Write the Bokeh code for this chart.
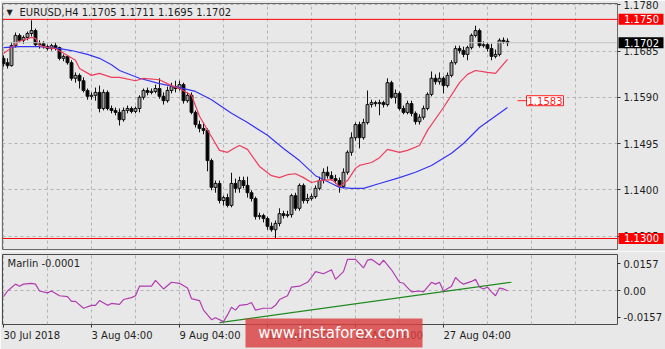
from bokeh.plotting import figure
from bokeh.layouts import column
from bokeh.models import (Range1d, FixedTicker, Grid, Span, Label, ColumnDataSource,
                          PrintfTickFormatter, CustomJSTickFormatter, GridBox)
from bokeh.embed import file_html
from bokeh.resources import INLINE

# ---------------- data (EURUSD H4) ----------------
symbol = "EURUSD,H4"
open_ = [1.1670, 1.1661, 1.1655, 1.1696, 1.1717, 1.1707, 1.1713, 1.1721, 1.1727, 1.1698,
         1.1700, 1.1694, 1.1690, 1.1696, 1.1692, 1.1670, 1.1674, 1.1661, 1.1629, 1.1635,
         1.1624, 1.1604, 1.1592, 1.1594, 1.1600, 1.1567, 1.1600, 1.1567, 1.1563, 1.1559,
         1.1544, 1.1563, 1.1567, 1.1561, 1.1567, 1.1590, 1.1604, 1.1600, 1.1602, 1.1608,
         1.1592, 1.1583, 1.1604, 1.1612, 1.1608, 1.1616, 1.1583, 1.1594, 1.1559, 1.1534,
         1.1526, 1.1522, 1.1460, 1.1405, 1.1413, 1.1378, 1.1384, 1.1368, 1.1413, 1.1403,
         1.1419, 1.1409, 1.1394, 1.1382, 1.1345, 1.1347, 1.1341, 1.1325, 1.1318, 1.1331,
         1.1351, 1.1347, 1.1349, 1.1388, 1.1362, 1.1409, 1.1378, 1.1382, 1.1386, 1.1403,
         1.1419, 1.1436, 1.1429, 1.1423, 1.1419, 1.1407, 1.1436, 1.1477, 1.1507, 1.1534,
         1.1507, 1.1538, 1.1575, 1.1579, 1.1577, 1.1579, 1.1575, 1.1620, 1.1590, 1.1598,
         1.1567, 1.1559, 1.1577, 1.1557, 1.1540, 1.1549, 1.1567, 1.1596, 1.1629, 1.1622,
         1.1629, 1.1614, 1.1635, 1.1661, 1.1690, 1.1686, 1.1678, 1.1692, 1.1717, 1.1727,
         1.1696, 1.1698, 1.1690, 1.1674, 1.1678, 1.1707, 1.1705]
high = [1.1676, 1.1670, 1.1703, 1.1723, 1.1721, 1.1717, 1.1725, 1.1748, 1.1731, 1.1707,
        1.1705, 1.1698, 1.1700, 1.1703, 1.1694, 1.1678, 1.1676, 1.1666, 1.1641, 1.1639,
        1.1631, 1.1608, 1.1600, 1.1610, 1.1614, 1.1606, 1.1604, 1.1573, 1.1569, 1.1567,
        1.1569, 1.1573, 1.1571, 1.1571, 1.1594, 1.1608, 1.1610, 1.1608, 1.1616, 1.1629,
        1.1600, 1.1612, 1.1620, 1.1624, 1.1624, 1.1620, 1.1600, 1.1600, 1.1563, 1.1542,
        1.1538, 1.1526, 1.1464, 1.1419, 1.1419, 1.1388, 1.1392, 1.1435, 1.1423, 1.1427,
        1.1427, 1.1427, 1.1399, 1.1386, 1.1353, 1.1351, 1.1345, 1.1333, 1.1337, 1.1362,
        1.1357, 1.1357, 1.1392, 1.1394, 1.1413, 1.1413, 1.1392, 1.1392, 1.1409, 1.1427,
        1.1444, 1.1448, 1.1438, 1.1431, 1.1425, 1.1444, 1.1481, 1.1518, 1.1538, 1.1540,
        1.1546, 1.1604, 1.1585, 1.1583, 1.1585, 1.1583, 1.1629, 1.1624, 1.1606, 1.1602,
        1.1573, 1.1583, 1.1583, 1.1561, 1.1555, 1.1573, 1.1600, 1.1643, 1.1637, 1.1641,
        1.1633, 1.1641, 1.1666, 1.1696, 1.1696, 1.1694, 1.1696, 1.1721, 1.1737, 1.1731,
        1.1705, 1.1703, 1.1700, 1.1688, 1.1711, 1.1713, 1.1711]
low = [1.1653, 1.1649, 1.1653, 1.1692, 1.1703, 1.1700, 1.1707, 1.1715, 1.1694, 1.1690,
       1.1690, 1.1686, 1.1686, 1.1686, 1.1666, 1.1664, 1.1657, 1.1624, 1.1620, 1.1608,
       1.1600, 1.1585, 1.1585, 1.1583, 1.1559, 1.1563, 1.1563, 1.1557, 1.1553, 1.1532,
       1.1540, 1.1557, 1.1557, 1.1557, 1.1559, 1.1585, 1.1594, 1.1596, 1.1598, 1.1587,
       1.1575, 1.1579, 1.1598, 1.1600, 1.1604, 1.1577, 1.1579, 1.1555, 1.1528, 1.1518,
       1.1514, 1.1438, 1.1399, 1.1394, 1.1372, 1.1368, 1.1364, 1.1364, 1.1394, 1.1394,
       1.1403, 1.1384, 1.1376, 1.1339, 1.1339, 1.1333, 1.1318, 1.1314, 1.1301, 1.1325,
       1.1341, 1.1343, 1.1343, 1.1357, 1.1357, 1.1372, 1.1372, 1.1378, 1.1382, 1.1399,
       1.1413, 1.1423, 1.1419, 1.1413, 1.1394, 1.1403, 1.1431, 1.1470, 1.1501, 1.1485,
       1.1503, 1.1534, 1.1569, 1.1571, 1.1553, 1.1569, 1.1571, 1.1587, 1.1577, 1.1563,
       1.1555, 1.1555, 1.1551, 1.1534, 1.1534, 1.1544, 1.1563, 1.1592, 1.1616, 1.1616,
       1.1598, 1.1610, 1.1631, 1.1657, 1.1680, 1.1672, 1.1666, 1.1688, 1.1713, 1.1692,
       1.1692, 1.1684, 1.1666, 1.1670, 1.1674, 1.1700, 1.1695]
close = [1.1659, 1.1655, 1.1696, 1.1717, 1.1707, 1.1713, 1.1721, 1.1727, 1.1698, 1.1700,
         1.1694, 1.1690, 1.1696, 1.1692, 1.1670, 1.1674, 1.1661, 1.1629, 1.1635, 1.1624,
         1.1604, 1.1592, 1.1594, 1.1600, 1.1567, 1.1600, 1.1567, 1.1563, 1.1559, 1.1544,
         1.1563, 1.1567, 1.1561, 1.1567, 1.1590, 1.1604, 1.1600, 1.1602, 1.1608, 1.1592,
         1.1583, 1.1604, 1.1612, 1.1608, 1.1616, 1.1583, 1.1594, 1.1559, 1.1534, 1.1526,
         1.1522, 1.1460, 1.1405, 1.1413, 1.1378, 1.1384, 1.1368, 1.1413, 1.1403, 1.1419,
         1.1409, 1.1394, 1.1382, 1.1345, 1.1347, 1.1341, 1.1325, 1.1318, 1.1331, 1.1351,
         1.1347, 1.1349, 1.1388, 1.1362, 1.1409, 1.1378, 1.1382, 1.1386, 1.1403, 1.1419,
         1.1436, 1.1429, 1.1423, 1.1419, 1.1407, 1.1436, 1.1477, 1.1507, 1.1534, 1.1507,
         1.1538, 1.1575, 1.1579, 1.1577, 1.1579, 1.1575, 1.1620, 1.1590, 1.1598, 1.1567,
         1.1559, 1.1577, 1.1557, 1.1540, 1.1549, 1.1567, 1.1596, 1.1629, 1.1622, 1.1629,
         1.1614, 1.1635, 1.1661, 1.1690, 1.1686, 1.1678, 1.1692, 1.1717, 1.1727, 1.1696,
         1.1698, 1.1690, 1.1674, 1.1678, 1.1707, 1.1705, 1.1702]

# fast (red) moving average, read at these bar indices
fast_bar = [0, 2, 4, 7, 8, 9, 11, 13, 16, 18, 19, 22, 24, 27, 29, 33, 35, 39, 42, 44,
            47, 49, 52, 54, 56, 58, 59, 61, 64, 67, 69, 71, 73, 75, 77, 79, 82, 84, 86, 88,
            89, 92, 94, 96, 99, 101, 104, 106, 110, 114, 116, 118, 121, 123, 126]
fast_ma = [1.1680, 1.1692, 1.1705, 1.1713, 1.1711, 1.1696, 1.1692, 1.1690, 1.1676, 1.1666,
           1.1649, 1.1635, 1.1639, 1.1631, 1.1631, 1.1624, 1.1629, 1.1626, 1.1614, 1.1608,
           1.1594, 1.1551, 1.1509, 1.1481, 1.1477, 1.1487, 1.1491, 1.1483, 1.1448, 1.1429,
           1.1425, 1.1431, 1.1433, 1.1425, 1.1415, 1.1419, 1.1421, 1.1407, 1.1419, 1.1444,
           1.1450, 1.1456, 1.1466, 1.1483, 1.1477, 1.1481, 1.1491, 1.1522, 1.1569, 1.1620,
           1.1637, 1.1645, 1.1641, 1.1639, 1.1668]
# slow (blue) moving average
slow_bar = [0, 4, 9, 14, 17, 21, 24, 27, 29, 34, 39, 44, 48, 52, 57, 61, 66, 70, 74, 78,
            82, 84, 87, 90, 94, 99, 103, 107, 112, 115, 119, 124, 126]
slow_ma = [1.1692, 1.1694, 1.1694, 1.1690, 1.1686, 1.1678, 1.1670, 1.1657, 1.1645, 1.1629,
           1.1618, 1.1610, 1.1602, 1.1585, 1.1557, 1.1538, 1.1512, 1.1485, 1.1460, 1.1429,
           1.1413, 1.1405, 1.1403, 1.1403, 1.1413, 1.1425, 1.1436, 1.1450, 1.1475, 1.1495,
           1.1528, 1.1557, 1.1569]

# Marlin oscillator
marlin_bar = [0, 1, 3, 4, 5, 7, 8, 9, 11, 12, 14, 16, 17, 18, 20, 22, 23, 24, 26, 27,
              29, 30, 32, 33, 34, 36, 37, 38, 40, 42, 44, 46, 47, 49, 50, 52, 53, 55, 56, 57,
              58, 59, 61, 62, 63, 65, 67, 68, 69, 71, 72, 74, 76, 77, 78, 80, 82, 83, 85, 86,
              88, 90, 91, 92, 94, 95, 97, 99, 100, 102, 104, 105, 107, 108, 109, 110, 112, 113, 114, 115,
              117, 118, 119, 120, 121, 122, 123, 124, 125, 126]
marlin = [-0.0035, -0.0002, 0.0038, 0.0026, 0.0038, 0.0043, 0.0038, -0.0002, -0.0013, -0.0002,
          -0.0030, -0.0035, -0.0063, -0.0063, -0.0103, -0.0086, -0.0086, -0.0058, -0.0086, -0.0075,
          -0.0080, -0.0052, -0.0041, -0.0030, 0.0026, 0.0026, 0.0026, 0.0060, 0.0010, 0.0049,
          0.0043, 0.0015, -0.0047, -0.0058, -0.0114, -0.0170, -0.0159, -0.0181, -0.0142, -0.0097,
          -0.0114, -0.0086, -0.0080, -0.0069, -0.0114, -0.0103, -0.0103, -0.0086, -0.0052, -0.0030,
          0.0021, 0.0026, 0.0049, 0.0077, 0.0111, 0.0099, 0.0122, 0.0066, 0.0111, 0.0183,
          0.0183, 0.0133, 0.0178, 0.0183, 0.0150, 0.0178, 0.0122, 0.0049, 0.0043, -0.0007,
          -0.0002, -0.0007, 0.0049, 0.0038, 0.0049, -0.0002, 0.0026, 0.0077, 0.0054, 0.0038,
          0.0054, 0.0066, 0.0021, 0.0010, 0.0021, -0.0007, -0.0030, 0.0015, 0.0010, -0.0001]
trend_bar = [54, 127]
trend_val = [-0.0187, 0.0049]

level_high = 1.1750
level_low = 1.1300
alert_price = 1.1583
price_ticks = [1.1305, 1.1400, 1.1495, 1.1590, 1.1685, 1.1780]
osc_ticks = [-0.0157, 0.0, 0.0157]
label_bars = [0, 22, 44, 66, 88, 110]
time_labels = ["30 Jul 2018", "3 Aug 04:00", "9 Aug 04:00", "15 Aug 04:00",
               "21 Aug 04:00", "27 Aug 04:00"]
watermark = "www.instaforex.com"

# ---------------- styling ----------------
BG = "#e8e8e8"
FONT = "DejaVu Sans"
TXT = "#1e1e1e"
GRIDC = "#b4b4b4"
W = 665
H_MAIN, H_IND = 251, 98
X_LO, X_HI = -0.25, 153.5
P_LO, P_HI = 1.12774, 1.17826
O_LO, O_HI = -0.0198, 0.02114
FRAME_TOP, FRAME_H = 3, 246  # main frame geometry in px

n = len(close)
bars = list(range(n))
tops = [max(o, c) for o, c in zip(open_, close)]
bots = [min(o, c) for o, c in zip(open_, close)]
fills = ["#a4a4a4" if c >= o else "#000000" for o, c in zip(open_, close)]
src = ColumnDataSource(dict(x=bars, h=high, l=low, top=tops, bot=bots, fill=fills))


def style_axis(ax):
    ax.major_label_text_font = FONT
    ax.major_label_text_font_size = "10px"
    ax.major_label_text_color = TXT
    ax.major_tick_out = 3
    ax.major_tick_in = 0
    ax.minor_tick_out = 0
    ax.minor_tick_in = 0
    ax.major_tick_line_color = "#303030"
    ax.axis_line_color = None
    ax.major_label_standoff = 3


# ---------------- main price panel ----------------
p = figure(width=W, height=H_MAIN, output_backend="svg", toolbar_location=None,
           x_range=Range1d(X_LO, X_HI), y_range=Range1d(P_LO, P_HI),
           x_axis_location=None, y_axis_location="right",
           min_border_left=2, min_border_right=48, min_border_top=FRAME_TOP,
           min_border_bottom=H_MAIN - FRAME_TOP - FRAME_H,
           background_fill_color=BG, border_fill_color=BG,
           outline_line_color="#6a6a6a")
p.grid.visible = False
p.add_layout(Grid(dimension=0, ticker=FixedTicker(ticks=list(range(0, 150, 11))),
                  grid_line_color=GRIDC, grid_line_dash="3 3"))
p.add_layout(Grid(dimension=1, ticker=FixedTicker(ticks=price_ticks),
                  grid_line_color=GRIDC, grid_line_dash="3 3"))
ya = p.yaxis[0]
ya.ticker = FixedTicker(ticks=price_ticks)
ya.formatter = PrintfTickFormatter(format="%.4f")
style_axis(ya)

p.add_layout(Span(location=close[-1], dimension="width", line_color="#c4c4c4", line_width=1))
p.add_layout(Span(location=level_high, dimension="width", line_color="#ff0000", line_width=1))
p.add_layout(Span(location=level_low, dimension="width", line_color="#ff0000", line_width=1))

p.segment(x0="x", y0="h", x1="x", y1="l", source=src, line_color="#111111", line_width=1)
p.vbar(x="x", width=0.72, top="top", bottom="bot", source=src,
       fill_color="fill", line_color="#111111", line_width=1)
p.line(slow_bar, slow_ma, line_color="#3535f2", line_width=1.2)
p.line(fast_bar, fast_ma, line_color="#ee3d5c", line_width=1.2)

# alert marker
p.segment(x0=[128.5], y0=[alert_price], x1=[130.8], y1=[alert_price],
          line_color="#ff2020", line_width=1)
p.add_layout(Label(x=524, y=alert_price, x_units="screen", text=f"{alert_price:.4f}",
                   text_align="left", text_baseline="middle", text_font=FONT,
                   text_font_size="10px", text_color="#ff2020",
                   background_fill_color="white", border_line_color="#ff2020",
                   padding=1))

# header
p.add_layout(Label(x=4, y=237, x_units="screen", y_units="screen", text="\u25bc",
                   text_align="left", text_baseline="middle", text_font=FONT,
                   text_font_size="8px", text_color=TXT))
p.add_layout(Label(x=17, y=237, x_units="screen", y_units="screen",
                   text=f"{symbol}  {open_[-1]:.4f} {high[-1]:.4f} {low[-1]:.4f} {close[-1]:.4f}",
                   text_align="left", text_baseline="middle", text_font=FONT,
                   text_font_size="10px", text_color=TXT))

# ---------------- indicator panel ----------------
q = figure(width=W, height=H_IND, output_backend="svg", toolbar_location=None,
           x_range=p.x_range, y_range=Range1d(O_LO, O_HI),
           x_axis_location="below", y_axis_location="right",
           min_border_left=2, min_border_right=48, min_border_top=3, min_border_bottom=22,
           background_fill_color=BG, border_fill_color=BG,
           outline_line_color="#4a4a4a")
q.grid.visible = False
q.add_layout(Grid(dimension=0, ticker=FixedTicker(ticks=list(range(0, 150, 11))),
                  grid_line_color=GRIDC, grid_line_dash="3 3"))
q.add_layout(Grid(dimension=1, ticker=FixedTicker(ticks=[0.0]),
                  grid_line_color=GRIDC, grid_line_dash="3 3"))
qy = q.yaxis[0]
qy.ticker = FixedTicker(ticks=osc_ticks)
qy.formatter = CustomJSTickFormatter(code="return tick == 0 ? '0.00' : tick.toFixed(4);")
style_axis(qy)
qx = q.xaxis[0]
qx.ticker = FixedTicker(ticks=label_bars)
qx.formatter = CustomJSTickFormatter(args=dict(bars=label_bars, names=time_labels),
                                     code="const i = bars.indexOf(tick); return i >= 0 ? names[i] : '';")
style_axis(qx)
qx.major_label_orientation = -0.0001
qx.major_label_standoff = 8

q.line(trend_bar, trend_val, line_color="#1e8a1e", line_width=1.2)
q.line(marlin_bar, marlin, line_color="#b03cb0", line_width=1.2)

q.add_layout(Label(x=5, y=61, x_units="screen", y_units="screen",
                   text=f"Marlin {marlin[-1]:.4f}", text_align="left", text_baseline="middle",
                   text_font=FONT, text_font_size="10px", text_color=TXT))

# ---------------- transparent overlay (pixel space) for items crossing panel edges ----
ov = figure(width=W, height=H_MAIN + H_IND, output_backend="svg", toolbar_location=None,
            x_range=Range1d(0, W), y_range=Range1d(H_MAIN + H_IND, 0),
            x_axis_location=None, y_axis_location=None, min_border=0,
            min_border_left=0, min_border_right=0, min_border_top=0, min_border_bottom=0,
            background_fill_alpha=0, border_fill_alpha=0, outline_line_color=None)
ov.grid.visible = False
try:
    ov.frame_align = False
except Exception:
    pass


def price_px(v):
    return FRAME_TOP + (P_HI - v) / (P_HI - P_LO) * FRAME_H


for val, col in [(level_high, "#ff0000"), (close[-1], "#000000"), (level_low, "#ff0000")]:
    yy = price_px(val)
    ov.quad(left=[618], right=[663], top=[yy - 5.5], bottom=[yy + 5.5],
            fill_color=col, line_color=None)
    ov.add_layout(Label(x=623.5, y=yy, text=f"{val:.4f}", text_align="left",
                        text_baseline="middle", text_font=FONT, text_font_size="10px",
                        text_color="white"))

ov.quad(left=[245], right=[422], top=[318], bottom=[347],
        fill_color="#d94040", fill_alpha=0.82, line_color=None)
ov.add_layout(Label(x=333.5, y=332.5, text=watermark, text_align="center",
                    text_baseline="middle", text_font=FONT, text_font_size="15px",
                    text_color="white"))

panels = column(p, q, spacing=0)
layout = GridBox(children=[(panels, 0, 0), (ov, 0, 0)])
open("out.html", "w").write(file_html(layout, INLINE))
